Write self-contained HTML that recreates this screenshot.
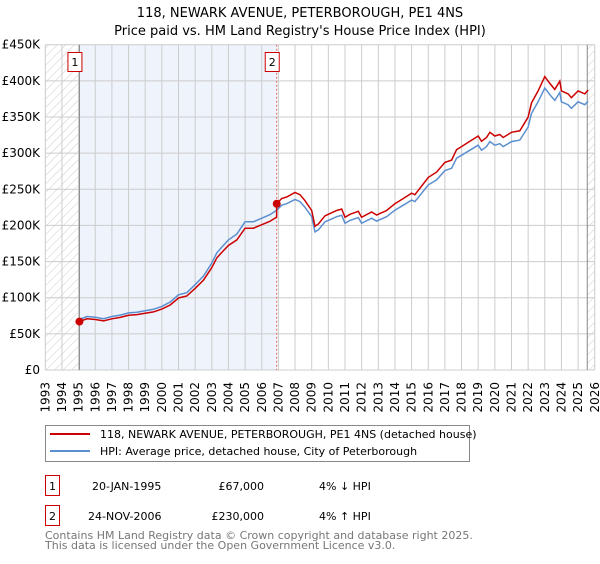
<!DOCTYPE html>
<html><head><meta charset="utf-8"><style>
body{margin:0;background:#fff;width:600px;height:560px;overflow:hidden;font-family:"DejaVu Sans","Liberation Sans",sans-serif}
</style></head><body>
<svg id="c" width="600" height="560" xmlns="http://www.w3.org/2000/svg">
<defs><pattern id="h" width="6" height="6" patternUnits="userSpaceOnUse" patternTransform="rotate(45)"><line x1="0" y1="0" x2="0" y2="6" stroke="#ccc" stroke-width="1"/></pattern></defs>
<text x="300" y="17" text-anchor="middle" font-size="13" fill="#000">118, NEWARK AVENUE, PETERBOROUGH, PE1 4NS</text>
<text x="300" y="35" text-anchor="middle" font-size="13" fill="#000">Price paid vs. HM Land Registry's House Price Index (HPI)</text>
<g id="plot"></g>
<g>
<rect x="45.5" y="425.5" width="424" height="36" fill="#fff" stroke="#888"/>
<line x1="50" y1="434" x2="90" y2="434" stroke="#cc0000" stroke-width="2"/>
<text x="100" y="438" font-size="11">118, NEWARK AVENUE, PETERBOROUGH, PE1 4NS (detached house)</text>
<line x1="50" y1="451" x2="90" y2="451" stroke="#5b8fd0" stroke-width="2"/>
<text x="100" y="455" font-size="11">HPI: Average price, detached house, City of Peterborough</text>
</g>
<g font-size="11">
<rect x="45.5" y="475.5" width="14" height="20" fill="#fff" stroke="#cc0000"/><text x="52.5" y="490" text-anchor="middle">1</text>
<text x="92" y="490">20-JAN-1995</text><text x="264" y="490" text-anchor="end">£67,000</text><text x="319" y="490">4% ↓ HPI</text>
<rect x="45.5" y="505.5" width="14" height="20" fill="#fff" stroke="#cc0000"/><text x="52.5" y="520" text-anchor="middle">2</text>
<text x="88" y="520">24-NOV-2006</text><text x="264" y="520" text-anchor="end">£230,000</text><text x="319" y="520">4% ↑ HPI</text>
</g>
<text x="45" y="539" font-size="11" fill="#777">Contains HM Land Registry data © Crown copyright and database right 2025.</text>
<text x="45" y="549" font-size="11" fill="#777">This data is licensed under the Open Government Licence v3.0.</text>
</svg>
<script>
const years=[1993,1994,1995,1996,1997,1998,1999,2000,2001,2002,2003,2004,2005,2006,2007,2008,2009,2010,2011,2012,2013,2014,2015,2016,2017,2018,2019,2020,2021,2022,2023,2024,2025,2026];
const yTicks=[0,50000,100000,150000,200000,250000,300000,350000,400000,450000];
const yTickLabels=["£0","£50K","£100K","£150K","£200K","£250K","£300K","£350K","£400K","£450K"];
const hpiDates=[1995.05,1995.5,1996,1996.5,1997,1997.5,1998,1998.5,1999,1999.5,2000,2000.5,2001,2001.5,2002,2002.5,2003,2003.3,2003.6,2004,2004.5,2005,2005.5,2006,2006.5,2006.9,2007.2,2007.5,2008,2008.3,2008.6,2009,2009.2,2009.4,2009.8,2010,2010.5,2010.8,2011,2011.3,2011.8,2012,2012.6,2012.9,2013.5,2014,2014.5,2015,2015.2,2016,2016.5,2017,2017.4,2017.7,2018,2018.5,2019,2019.2,2019.5,2019.7,2020,2020.3,2020.5,2021,2021.5,2022,2022.2,2022.6,2023,2023.3,2023.6,2023.9,2024,2024.4,2024.6,2025,2025.4,2025.6];
const hpiValues=[70,74,73,71,74,76,79,80,82,84,88,94,104,107,118,130,148,162,170,180,188,205,205,210,215,221,228,230,236,233,225,212,191,194,205,207,212,214,203,207,211,203,210,206,212,221,228,235,233,256,263,276,279,293,297,304,311,304,309,316,311,313,309,316,318,336,355,371,390,381,373,384,371,367,362,371,367,372];
const saleDates=[1995.05,2006.9];
const salePrices=[67000,230000];
const saleLabels=["1","2"];
const NS="http://www.w3.org/2000/svg";
const X0=45.3,YW=16.65,Y0=370,YS=325.3/450000;
const xs=y=>X0+(y-1993)*YW, ys=v=>Y0-v*YS;
const g=document.getElementById('plot');
function mk(t,a){const e=document.createElementNS(NS,t);for(const k in a)e.setAttribute(k,a[k]);g.appendChild(e);return e;}
let e;
e=mk('rect',{x:xs(1993),y:ys(450000),width:xs(2026)-xs(1993),height:Y0-ys(450000),fill:'#fff'});
e=mk('rect',{x:xs(saleDates[0]),y:ys(450000),width:xs(saleDates[1])-xs(saleDates[0]),height:Y0-ys(450000),fill:'#eef3fc'});


e=mk('rect',{x:xs(1993),y:ys(450000),width:xs(saleDates[0])-xs(1993),height:Y0-ys(450000),fill:'url(#h)'});


e=mk('rect',{x:xs(2025.55),y:ys(450000),width:xs(2026)-xs(2025.55),height:Y0-ys(450000),fill:'url(#h)'});


yTicks.forEach((v,i)=>{
 e=mk('line',{x1:xs(1993),x2:xs(2026),y1:ys(v),y2:ys(v),stroke:'#ccc'});
 
 
 e=mk('text',{x:40,y:ys(v)+4,'text-anchor':'end','font-size':12});e.textContent=yTickLabels[i];
 
 
});
years.forEach(y=>{
 e=mk('line',{x1:xs(y),x2:xs(y),y1:ys(450000),y2:Y0,stroke:'#ccc'});
 
 
 e=mk('text',{x:0,y:0,'text-anchor':'end','font-size':12,transform:`translate(${xs(y)+4},${Y0+12}) rotate(-90)`});e.textContent=y;
 
 
});
e=mk('line',{x1:xs(saleDates[0]),x2:xs(saleDates[0]),y1:ys(450000),y2:Y0,stroke:'#888'});


e=mk('line',{x1:xs(saleDates[1]),x2:xs(saleDates[1]),y1:ys(450000),y2:Y0,stroke:'#e06666','stroke-dasharray':'2,2'});


e=mk('line',{x1:xs(2025.55),x2:xs(2025.55),y1:ys(450000),y2:Y0,stroke:'#888'});


// HPI line
let d=hpiDates.map((t,i)=>(i?'L':'M')+xs(t).toFixed(1)+','+ys(hpiValues[i]*1000).toFixed(1)).join('');
e=mk('path',{d:d,fill:'none',stroke:'#5b8fd0','stroke-width':1.5});


// property line indexed from sales
function hpiAt(t){for(let i=1;i<hpiDates.length;i++){if(t<=hpiDates[i]){const f=(t-hpiDates[i-1])/(hpiDates[i]-hpiDates[i-1]);return (hpiValues[i-1]+f*(hpiValues[i]-hpiValues[i-1]))*1000;}}return hpiValues[hpiValues.length-1]*1000;}
const r1=salePrices[0]/hpiAt(saleDates[0]), r2=salePrices[1]/hpiAt(saleDates[1]);
let pts=[];
hpiDates.forEach((t,i)=>{const r=t<saleDates[1]?r1:r2;pts.push([t,hpiValues[i]*1000*r]);});
pts.splice(hpiDates.findIndex(t=>t>=saleDates[1]),0,[saleDates[1]-0.01,hpiAt(saleDates[1])*r1]);
d=pts.map((p,i)=>(i?'L':'M')+xs(p[0]).toFixed(1)+','+ys(p[1]).toFixed(1)).join('');
e=mk('path',{d:d,fill:'none',stroke:'#cc0000','stroke-width':1.5});


saleDates.forEach((t,i)=>{
 e=mk('circle',{cx:xs(t),cy:ys(salePrices[i]),r:4,fill:'#cc0000'});
 
 
 e=mk('rect',{x:xs(t)-11.5,y:52.5,width:14,height:19,fill:'#fff',stroke:'#cc0000'});
 
 
 e=mk('text',{x:xs(t)-4.5,y:66,'text-anchor':'middle','font-size':11});e.textContent=saleLabels[i];
 
 
});
</script>
</body></html>
